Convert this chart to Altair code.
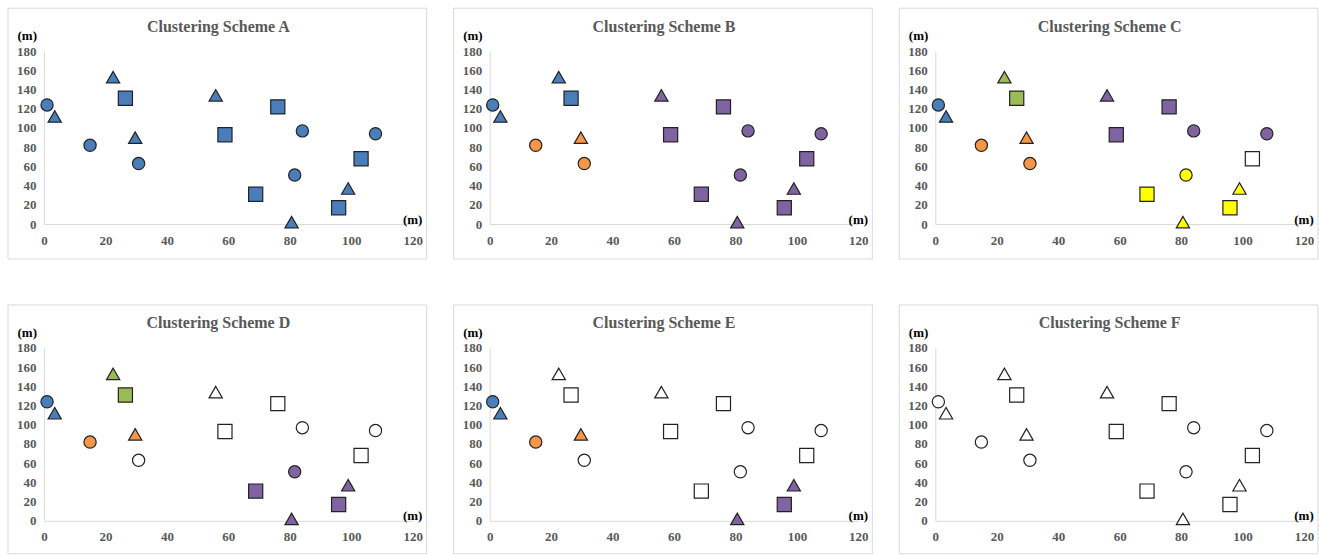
import altair as alt
import pandas as pd

# ---- data ----
x_m = [1, 3.5, 15, 22.5, 26.5, 29.7, 30.8, 55.9, 58.9, 68.9, 76.1, 81.6, 84.1, 80.6, 95.9, 99, 103.2, 107.9]
y_m = [124, 112, 82, 153, 131, 90, 63, 134, 93, 31, 122, 51, 97, 2, 17, 37, 68, 94]
shapes = ["circle", "triangle", "circle", "triangle", "square", "triangle", "circle", "triangle", "square",
          "square", "square", "circle", "circle", "triangle", "square", "triangle", "square", "circle"]

scheme_names = ["A", "B", "C", "D", "E", "F"]
clusters = {
    "A": ["blue"] * 18,
    "B": ["blue", "blue", "orange", "blue", "blue", "orange", "orange"] + ["purple"] * 11,
    "C": ["blue", "blue", "orange", "green", "green", "orange", "orange", "purple", "purple", "yellow",
          "purple", "yellow", "purple", "yellow", "yellow", "yellow", "white", "purple"],
    "D": ["blue", "blue", "orange", "green", "green", "orange", "white", "white", "white", "purple",
          "white", "purple", "white", "purple", "purple", "purple", "white", "white"],
    "E": ["blue", "blue", "orange", "white", "white", "orange", "white", "white", "white", "white",
          "white", "white", "white", "purple", "purple", "purple", "white", "white"],
    "F": ["white"] * 18,
}

cluster_domain = ["blue", "orange", "green", "purple", "yellow", "white"]
cluster_colors = ["#4a7ebb", "#f79646", "#9bbb59", "#8064a2", "#ffff00", "#ffffff"]

FONT = "Liberation Serif"
W, H = 369, 173

axis_common = dict(
    grid=False, ticks=False, domainColor="#d9d9d9", domainWidth=1, labelFlush=False,
    labelFont=FONT, labelFontWeight="bold", labelColor="#595959", labelFontSize=13,
    titleFont=FONT, titleFontWeight="bold", titleColor="#000000", titleFontSize=13,
)


def panel(name, bottom):
    df = pd.DataFrame({"x": x_m, "y": y_m, "shape": shapes, "cluster": clusters[name]})
    pts = alt.Chart(df).mark_point(
        opacity=1, fillOpacity=1, stroke="#222222", strokeWidth=1.2
    ).encode(
        x=alt.X("x:Q", scale=alt.Scale(domain=[0, 120], nice=False, zero=True),
                axis=alt.Axis(values=[0, 20, 40, 60, 80, 100, 120], title="(m)",
                              titleX=368.5, titleY=-5, titleAlign="center",
                              titleBaseline="middle", labelPadding=10, **axis_common)),
        y=alt.Y("y:Q", scale=alt.Scale(domain=[0, 180], nice=False),
                axis=alt.Axis(values=[0, 20, 40, 60, 80, 100, 120, 140, 160, 180], title="(m)",
                              titleAngle=0, titleX=-27, titleY=-15.5, titleAlign="left",
                              titleBaseline="middle", labelPadding=8, **axis_common)),
        shape=alt.Shape("shape:N", scale=alt.Scale(domain=["circle", "triangle", "square"],
                                                   range=["circle", "triangle-up", "square"]), legend=None),
        size=alt.Size("shape:N", scale=alt.Scale(domain=["circle", "triangle", "square"],
                                                 range=[150, 200, 150]), legend=None),
        fill=alt.Fill("cluster:N", scale=alt.Scale(domain=cluster_domain, range=cluster_colors), legend=None),
    )
    one = pd.DataFrame({"t": ["Clustering Scheme " + name]})
    border = alt.Chart(one).mark_rect(fill=None, stroke="#d9d9d9", strokeWidth=1).encode(
        x=alt.value(-36), x2=alt.value(383), y=alt.value(-43), y2=alt.value(H + bottom)
    )
    title = alt.Chart(one).mark_text(
        font=FONT, fontSize=16, fontWeight="bold", color="#595959", align="center", baseline="middle"
    ).encode(x=alt.value(174.5), y=alt.value(-24.5), text="t:N")
    return alt.layer(border, title, pts).properties(width=W, height=H)


charts = [panel(n, 35 if i < 3 else 33) for i, n in enumerate(scheme_names)]

chart = alt.concat(
    *charts, columns=3, spacing=alt.RowColnumber(row=124, column=77), bounds="flush"
).properties(
    padding={"left": 7, "top": 7, "right": 0, "bottom": 0}
).configure_view(stroke=None)

chart.save("out.html", embed_options={"renderer": "svg", "actions": False})
